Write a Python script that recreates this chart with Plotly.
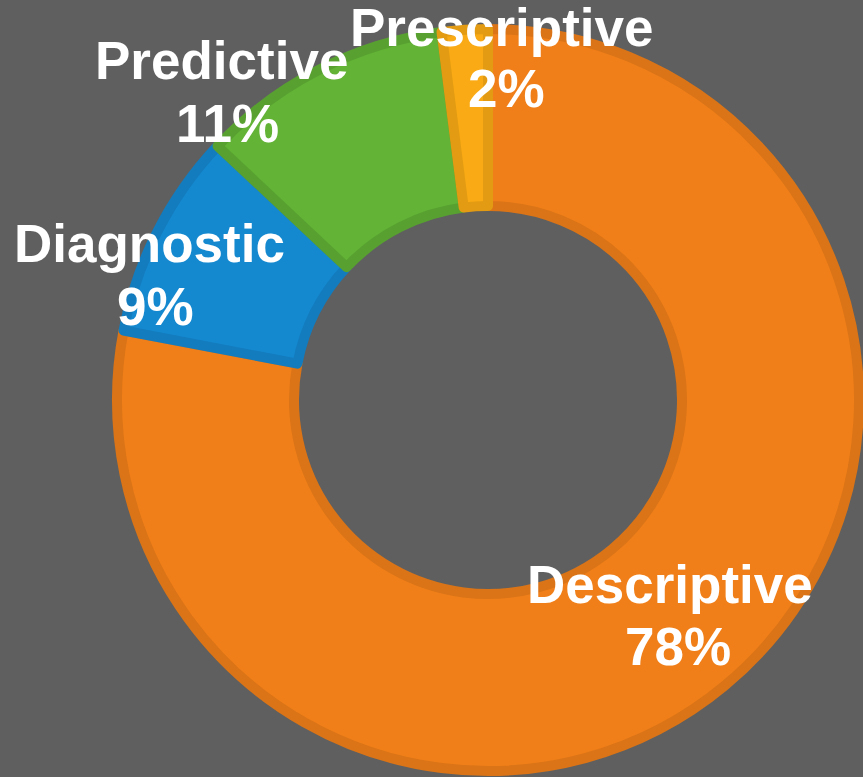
"""Donut chart: share of analytics types."""

import plotly.graph_objects as go

# data
categories = ["Descriptive", "Diagnostic", "Predictive", "Prescriptive"]
shares = [78, 9, 11, 2]

# styles
fill_colors = ["#F07F19", "#1589D0", "#62B336", "#F9AA14"]
edge_colors = ["#DA7417", "#137CBE", "#58A131", "#E29B12"]
BG = "#5F5F5F"
W, H = 863, 777

# label placement in pixels: (name center x, name baseline, pct center x, pct baseline)
label_pos = {
    "Descriptive": (670, 603, 678, 665),
    "Diagnostic": (149, 263, 155, 325),
    "Predictive": (221, 80, 227, 142),
    "Prescriptive": (502, 47, 506, 108),
}

CX, CY, R = 488, 400, 371
LINE_W = 10

fig = go.Figure()

fig.add_trace(go.Pie(
    labels=categories,
    values=shares,
    sort=False,
    direction="clockwise",
    rotation=0,
    hole=194 / R,
    textinfo="none",
    hoverinfo="skip",
    showlegend=False,
    marker=dict(colors=fill_colors, line=dict(color=edge_colors, width=LINE_W)),
    domain=dict(
        x=[(CX - R) / W, (CX + R) / W],
        y=[1 - (CY + R) / H, 1 - (CY - R) / H],
    ),
))

FONT = dict(family="Liberation Sans, Arial, sans-serif", size=53, color="white")
CAP_MID = 19  # offset from baseline to middle of the capitals


def add_line(text, x, baseline):
    fig.add_annotation(
        text="<b>%s</b>" % text,
        x=x / W, y=1 - (baseline - CAP_MID) / H,
        xref="paper", yref="paper",
        xanchor="center", yanchor="middle",
        showarrow=False, font=FONT,
    )


for name, pct in zip(categories, shares):
    nx, ny, px_, py_ = label_pos[name]
    add_line(name, nx, ny)
    add_line("%d%%" % pct, px_, py_)

fig.update_layout(
    width=W,
    height=H,
    margin=dict(l=0, r=0, t=0, b=0),
    paper_bgcolor=BG,
    plot_bgcolor=BG,
)

# drop the default page margin so the figure fills the window
fig.write_html(
    "out.html",
    config={"displayModeBar": False},
    post_script="document.body.style.margin='0';document.body.style.background='%s';" % BG,
)
